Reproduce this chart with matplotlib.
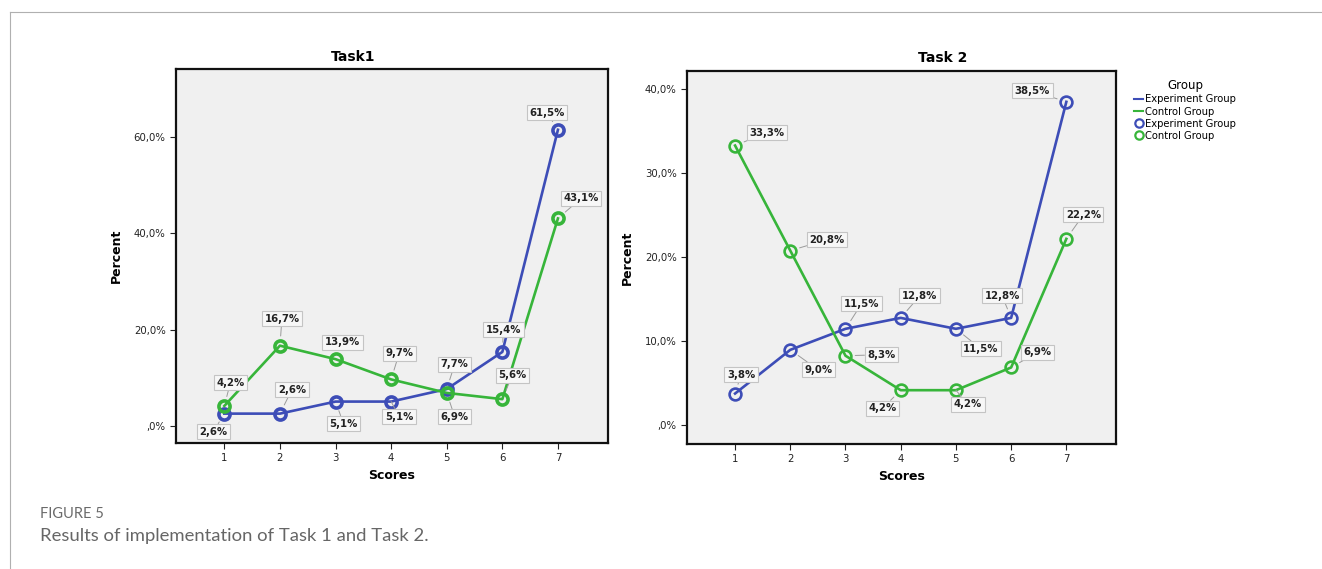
import matplotlib
matplotlib.use("Agg")
import matplotlib.pyplot as plt
from matplotlib.lines import Line2D
from matplotlib.ticker import FuncFormatter

# data
scores = [1, 2, 3, 4, 5, 6, 7]
task1_exp = [2.6, 2.6, 5.1, 5.1, 7.7, 15.4, 61.5]
task1_ctrl = [4.2, 16.7, 13.9, 9.7, 6.9, 5.6, 43.1]
task2_exp = [3.8, 9.0, 11.5, 12.8, 11.5, 12.8, 38.5]
task2_ctrl = [33.3, 20.8, 8.3, 4.2, 4.2, 6.9, 22.2]

# label offsets (pixels, x right / y down) from each point
t1_exp_off = [(-11, 18), (12, -24), (8, 22), (8, 15), (8, -25), (1, -22), (-11, -17)]
t1_ctrl_off = [(6, -23), (2, -27), (7, -17), (8, -26), (8, 24), (10, -24), (23, -20)]
t2_exp_off = [(6, -19), (28, 20), (16, -25), (19, -22), (25, 20), (-9, -22), (-34, -11)]
t2_ctrl_off = [(32, -13), (37, -11), (36, -1), (-18, 18), (12, 14), (26, -15), (17, -24)]

blue = "#3d4db7"
green = "#37b53a"


def pct(v, pos=None):
    if v == 0:
        return ",0%"
    return ("%.1f%%" % v).replace(".", ",")


def draw(ax, exp, ctrl, exp_off, ctrl_off, title, tx, yticks, ylim, ms, mew):
    ax.set_facecolor("#f0f0f0")
    ax.plot(scores, exp, color=blue, lw=1.9, marker="o", ms=ms,
            mfc="none", mec=blue, mew=mew, zorder=3)
    ax.plot(scores, ctrl, color=green, lw=1.9, marker="o", ms=ms,
            mfc="none", mec=green, mew=mew, zorder=3)
    for vals, offs in ((exp, exp_off), (ctrl, ctrl_off)):
        for x, v, (dx, dy) in zip(scores, vals, offs):
            ax.annotate(pct(v), (x, v), xytext=(dx, -dy), textcoords="offset pixels",
                        ha="center", va="center", fontsize=7.3, fontweight="bold",
                        color="#222222", zorder=5,
                        bbox=dict(boxstyle="square,pad=0.25", fc="#f7f7f7",
                                  ec="#c4c4c4", lw=0.8),
                        arrowprops=dict(arrowstyle="-", color="#9a9a9a", lw=0.7,
                                        shrinkA=0, shrinkB=7))
    ax.set_xlim(0.13, 7.9)
    ax.set_ylim(*ylim)
    ax.set_xticks(scores)
    ax.set_yticks(yticks)
    ax.yaxis.set_major_formatter(FuncFormatter(pct))
    ax.tick_params(labelsize=7.3, colors="#222222", length=4, width=0.8)
    for s in ax.spines.values():
        s.set_linewidth(1.6)
        s.set_color("#111111")
    ax.set_title(title, x=tx, fontsize=10, fontweight="bold", pad=6)
    ax.set_xlabel("Scores", fontsize=9, fontweight="bold", labelpad=4)
    ax.set_ylabel("Percent", fontsize=9, fontweight="bold", labelpad=8)


fig = plt.figure(figsize=(13.22, 5.69), dpi=100)
ax1 = fig.add_axes([0.1331, 0.2214, 0.3268, 0.6573])
ax2 = fig.add_axes([0.5197, 0.2197, 0.3245, 0.6560])

draw(ax1, task1_exp, task1_ctrl, t1_exp_off, t1_ctrl_off, "Task1", 0.41,
     [0, 20, 40, 60], (-3.5, 74.1), 8, 2.6)
draw(ax2, task2_exp, task2_ctrl, t2_exp_off, t2_ctrl_off, "Task 2", 0.597,
     [0, 10, 20, 30, 40], (-2.2, 42.2), 8.5, 1.9)

handles = [
    Line2D([], [], color=blue, lw=1.5),
    Line2D([], [], color=green, lw=1.5),
    Line2D([], [], ls="none", marker="o", ms=6, mfc="none", mec=blue, mew=1.6),
    Line2D([], [], ls="none", marker="o", ms=6, mfc="none", mec=green, mew=1.6),
]
labels = ["Experiment Group", "Control Group", "Experiment Group", "Control Group"]
leg = fig.legend(handles, labels, title="Group", loc="upper left",
                 bbox_to_anchor=(0.855, 0.868), frameon=False, fontsize=7.2,
                 title_fontsize=8.5, handlelength=0.9, handletextpad=0.2,
                 labelspacing=0.22, borderaxespad=0)

# page frame lines
fig.add_artist(Line2D([10 / 1322, 1], [1 - 12 / 569, 1 - 12 / 569],
                      color="#b0b0b0", lw=0.8, transform=fig.transFigure))
fig.add_artist(Line2D([10 / 1322, 10 / 1322], [0, 1 - 12 / 569],
                      color="#b0b0b0", lw=0.8, transform=fig.transFigure))

fig.text(40 / 1322, 1 - 514 / 569, "FIGURE 5", fontsize=10.5, color="#6a6a6a",
         family="Lato", va="center")
fig.text(40 / 1322, 1 - 536 / 569, "Results of implementation of Task 1 and Task 2.",
         fontsize=13.3, color="#666666", family="Lato", va="center")

fig.savefig("out.png", dpi=100)
